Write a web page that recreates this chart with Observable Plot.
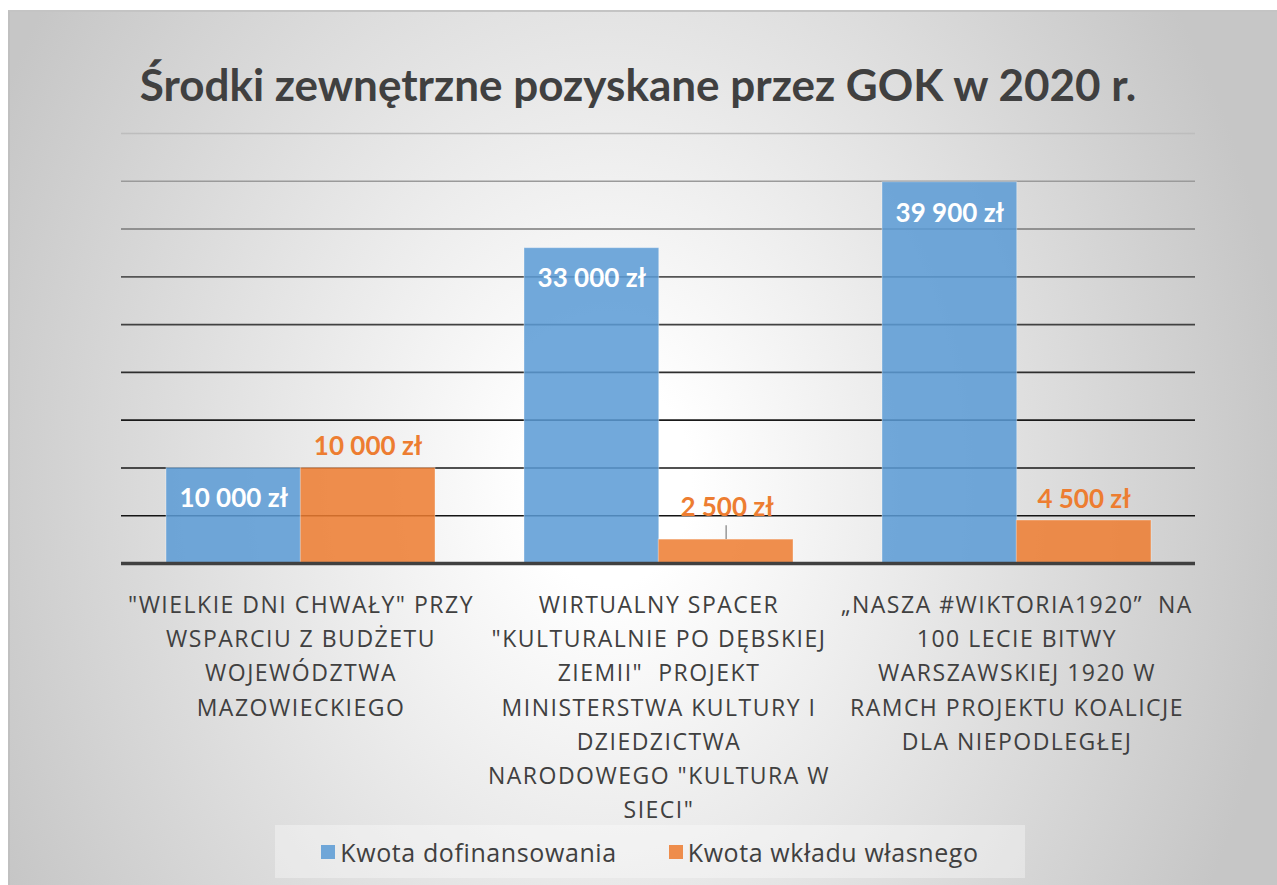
<!DOCTYPE html>
<html>
<head>
<meta charset="utf-8">
<script src="https://cdn.jsdelivr.net/npm/d3@7"></script>
<script src="https://cdn.jsdelivr.net/npm/@observablehq/plot@0.6"></script>
<style>
  html, body { margin: 0; padding: 0; background: #ffffff; }
  body { width: 1277px; height: 885px; position: relative; overflow: hidden; font-family: Lato, "Open Sans", sans-serif; }
  #frame { position: absolute; left: 8px; top: 10px; width: 1269px; height: 875px;
    background: radial-gradient(ellipse 680px 860px at 600px 470px, #ffffff 0%, #ffffff 12%, #c6c6c6 100%);
    border-top: 2px solid #c4c4c4; border-left: 2px solid #c0c0c0; box-sizing: border-box; }
  #title { position: absolute; left: 0; width: 1276px; top: 58px; text-align: center;
    font: bold 44px Lato, sans-serif; color: #404040; white-space: nowrap; }
  #chart { position: absolute; left: 0; top: 0; }
  #chart g[aria-label="x-axis tick label"] text { letter-spacing: 1.5px; }
  #legend { position: absolute; left: 275px; top: 825px; width: 750px; height: 53px;
    background: rgba(255,255,255,0.35); display: flex; align-items: center; justify-content: center;
    gap: 52px; font: 25px "Open Sans", sans-serif; color: #404040; letter-spacing: 0.6px; }
  .item { display: flex; align-items: center; gap: 5px; }
  .sw { width: 14px; height: 14px; display: inline-block; }
</style>
</head>
<body>
<div id="frame"></div>
<div id="title"></div>
<div id="chart"></div>
<div id="legend"></div>
<script>
// ---- data ----
const titleText = "Środki zewnętrzne pozyskane przez GOK w 2020 r.";
const categories = [
  "\"WIELKIE DNI CHWAŁY\" PRZY WSPARCIU Z BUDŻETU WOJEWÓDZTWA MAZOWIECKIEGO",
  "WIRTUALNY SPACER \"KULTURALNIE PO DĘBSKIEJ ZIEMII\"  PROJEKT MINISTERSTWA KULTURY I DZIEDZICTWA NARODOWEGO \"KULTURA W SIECI\"",
  "„NASZA #WIKTORIA1920”  NA 100 LECIE BITWY WARSZAWSKIEJ 1920 W RAMCH PROJEKTU KOALICJE DLA NIEPODLEGŁEJ"
];
const tickLabels = [
  "\"WIELKIE DNI CHWAŁY\" PRZY\nWSPARCIU Z BUDŻETU\nWOJEWÓDZTWA\nMAZOWIECKIEGO",
  "WIRTUALNY SPACER\n\"KULTURALNIE PO DĘBSKIEJ\nZIEMII\"  PROJEKT\nMINISTERSTWA KULTURY I\nDZIEDZICTWA\nNARODOWEGO \"KULTURA W\nSIECI\"",
  "„NASZA #WIKTORIA1920”  NA\n100 LECIE BITWY\nWARSZAWSKIEJ 1920 W\nRAMCH PROJEKTU KOALICJE\nDLA NIEPODLEGŁEJ"
];
const seriesNames = ["Kwota dofinansowania", "Kwota wkładu własnego"];
const dofinansowanie = [10000, 33000, 39900];
const wkladWlasny = [10000, 2500, 4500];
const gridValues = [0, 5000, 10000, 15000, 20000, 25000, 30000, 35000, 40000, 45000];

// ---- styles / layout ----
const colors = ["#5b9bd5", "#ed7d31"];
const W = 1277, H = 830;
const mL = 121, mR = 82, mT = 133, mB = 267;
const padIn = 0.25, padOut = 0.125;
const step = (W - mL - mR) / (categories.length - padIn + 2 * padOut);
const bw = step * (1 - padIn);
const half = bw / 2;

const rows = [];
categories.forEach((c, i) => {
  rows.push({cat: c, series: seriesNames[0], value: dofinansowanie[i], k: 0});
  rows.push({cat: c, series: seriesNames[1], value: wkladWlasny[i], k: 1});
});
const blue = rows.filter(d => d.k === 0);
const orange = rows.filter(d => d.k === 1);
const fmt = v => d3.format(",")(v).replace(/,/g, " ") + " zł";
const small = d => d.value < 3000;
const gridColor = d3.scaleLinear().domain([0, 15000, 30000, 45000]).range(["#111111", "#1a1a1a", "#555555", "#bdbdbd"]);

document.getElementById("title").textContent = titleText;

const labelFont = {fontSize: 26, fontWeight: "bold", fontFamily: "Lato, sans-serif"};

const plot = Plot.plot({
  width: W, height: H,
  marginLeft: mL, marginRight: mR, marginTop: mT, marginBottom: mB,
  style: {background: "transparent", fontFamily: "Lato, sans-serif"},
  x: {domain: categories, paddingInner: padIn, paddingOuter: padOut, label: null},
  y: {domain: [0, 45000], axis: null},
  marks: [
    Plot.ruleY(gridValues.filter(v => v > 0), {y: d => d, stroke: d => gridColor(d), strokeWidth: 1.6}),
    Plot.barY(blue, {x: "cat", y: "value", fill: colors[0], fillOpacity: 0.86, insetRight: half, insetLeft: 0,
      stroke: "#ffffff", strokeOpacity: 0.35, strokeWidth: 1}),
    Plot.barY(orange, {x: "cat", y: "value", fill: colors[1], fillOpacity: 0.86, insetLeft: half, insetRight: 0,
      stroke: "#ffffff", strokeOpacity: 0.35, strokeWidth: 1}),
    Plot.ruleY([0], {stroke: "#404040", strokeWidth: 3.5}),
    Plot.ruleX(orange.filter(small), {x: "cat", dx: half / 2, y1: "value", y2: d => d.value + 1450, stroke: "#7f7f7f", strokeWidth: 1.2}),
    Plot.text(blue, {x: "cat", y: "value", dx: -half / 2, dy: 31, text: d => fmt(d.value),
      fill: "#ffffff", ...labelFont}),
    Plot.text(orange.filter(d => !small(d)), {x: "cat", y: "value", dx: half / 2, dy: -21, text: d => fmt(d.value),
      fill: colors[1], ...labelFont}),
    Plot.text(orange.filter(small), {x: "cat", y: "value", dx: half / 2 + 1, dy: -32, text: d => fmt(d.value),
      fill: colors[1], ...labelFont}),
    Plot.axisX({tickSize: 0, tickPadding: 25, fontSize: 23, lineHeight: 1.49, fill: "#404040",
      fontFamily: "'Open Sans', sans-serif",
      tickFormat: d => tickLabels[categories.indexOf(d)], textAnchor: "middle", lineAnchor: "top", label: null})
  ]
});
document.getElementById("chart").appendChild(plot);

const legend = document.getElementById("legend");
seriesNames.forEach((s, i) => {
  const it = document.createElement("div");
  it.className = "item";
  const sw = document.createElement("span");
  sw.className = "sw";
  sw.style.background = colors[i];
  sw.style.opacity = 0.86;
  it.appendChild(sw);
  const t = document.createElement("span");
  t.textContent = s;
  it.appendChild(t);
  legend.appendChild(it);
});
</script>
</body>
</html>
